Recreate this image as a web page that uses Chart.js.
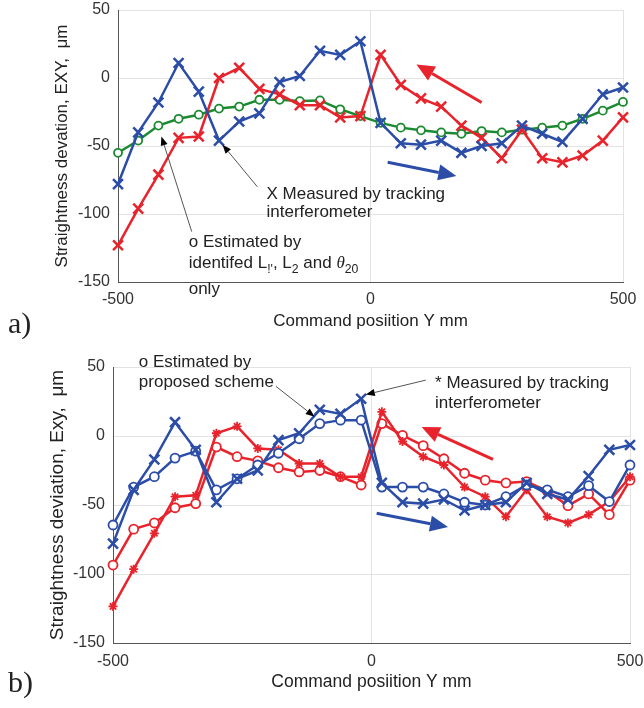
<!DOCTYPE html>
<html>
<head>
<meta charset="utf-8">
<script src="https://cdn.jsdelivr.net/npm/chart.js@4/dist/chart.umd.min.js"></script>
<style>
  html, body { margin: 0; padding: 0; background: #fff; }
  #wrapA { position: absolute; left: 0; top: 0; width: 644px; height: 340px; }
  #wrapB { position: absolute; left: 0; top: 340px; width: 644px; height: 368px; }
</style>
</head>
<body>
<div id="wrapA"><canvas id="chartA"></canvas></div>
<div id="wrapB"><canvas id="chartB"></canvas></div>
<script>
// ===== DATA =====
const positions = [-500, -460, -420, -380, -340, -300, -260, -220, -180, -140, -100, -60, -20,
                   20, 60, 100, 140, 180, 220, 260, 300, 340, 380, 420, 460, 500];

// panel a)
const aMeasuredFwd = [-78, -40, -18, 11, -10, -46, -32, -26, -3, 1.5, 20, 17, 27,
                      -33, -48, -49, -46, -55, -50, -48, -35, -41, -47, -30, -12, -7];
const aMeasuredBack = [-123, -96, -71, -44, -43, 0, 7.5, -8, -12, -20, -20, -29, -28,
                       17, -5, -15, -21, -35, -44, -59, -38, -59, -62, -57, -46, -29];
const aEstimated = [-55, -46, -35, -30, -27, -22.5, -21, -16, -16, -17, -16.5, -23, -28,
                    -33, -36.5, -38.5, -40, -41, -39, -40, -38, -36.5, -35, -30, -24, -17.6];

// panel b)
const bMeasuredFwd = [-78, -39, -17, 10, -10, -48, -31, -25, -3, 2, 19, 16, 27,
                      -34, -48, -49, -46, -54, -50, -48, -34, -42, -46, -29, -10, -6.5];
const bEstimatedFwd = [-64.5, -37, -29.5, -16, -11, -39, -31, -21, -12.5, -2, 9, 11.5, 11.5,
                       -37, -37, -37, -42, -48, -50, -44, -35.5, -39, -44, -36, -47.5, -21];
const bMeasuredBack = [-123.5, -96.5, -70.5, -44, -43, 2, 7, -9, -10, -20, -20, -29.5, -29.5,
                       17.5, -4, -15, -21, -37, -44, -58.5, -39, -58.5, -63, -57, -47.5, -29.5];
const bEstimatedBack = [-93.5, -67.5, -63, -52, -49, -8, -15, -18, -23, -26, -25, -29.5, -35.5,
                        9, 0.5, -7, -16.5, -27, -32, -34, -33, -40, -50.5, -42, -57, -32];

const xTicks = [-500, 0, 500];
const yTicks = [-150, -100, -50, 0, 50];

const BLUE = "#2b4da8";
const RED = "#e8232b";
const GREEN = "#1c8a30";
const FONT = "'Liberation Sans', Arial, sans-serif";

function pairs(values) {
  return values.map((v, i) => ({ x: positions[i], y: v }));
}

// ===== annotation helpers =====
function drawRich(ctx, x, y, parts, size) {
  let cx = x;
  parts.forEach(p => {
    const s = p.sub ? size * 0.72 : size;
    ctx.font = (p.it ? "italic " : "") + s + "px " + (p.it ? "'Liberation Serif', serif" : FONT);
    ctx.fillText(p.t, cx, y + (p.sub ? size * 0.3 : 0));
    cx += ctx.measureText(p.t).width;
  });
}

function drawArrow(ctx, x1, y1, x2, y2, color, headColor, lw, headLen, headW) {
  const ang = Math.atan2(y2 - y1, x2 - x1);
  const bx = x2 - Math.cos(ang) * headLen;
  const by = y2 - Math.sin(ang) * headLen;
  ctx.save();
  ctx.strokeStyle = color;
  ctx.lineWidth = lw;
  ctx.beginPath();
  ctx.moveTo(x1, y1);
  ctx.lineTo(bx, by);
  ctx.stroke();
  ctx.fillStyle = headColor;
  ctx.beginPath();
  ctx.moveTo(x2, y2);
  ctx.lineTo(bx + Math.sin(ang) * headW / 2, by - Math.cos(ang) * headW / 2);
  ctx.lineTo(bx - Math.sin(ang) * headW / 2, by + Math.cos(ang) * headW / 2);
  ctx.closePath();
  ctx.fill();
  ctx.restore();
}

const notesPlugin = {
  id: "notes",
  afterDatasetsDraw(chart, args, opts) {
    const { ctx, scales: { x, y } } = chart;
    ctx.save();
    (opts.arrows || []).forEach(a => {
      const big = a.kind !== "pointer";
      drawArrow(ctx,
        x.getPixelForValue(a.from[0]), y.getPixelForValue(a.from[1]),
        x.getPixelForValue(a.to[0]), y.getPixelForValue(a.to[1]),
        big ? a.color : "#555", big ? a.color : "#000",
        big ? 3 : 1, big ? 18 : 9, big ? 16 : 7);
    });
    ctx.fillStyle = "#222";
    ctx.textBaseline = "alphabetic";
    ctx.textAlign = "left";
    (opts.texts || []).forEach(t => {
      drawRich(ctx, x.getPixelForValue(t.at[0]), y.getPixelForValue(t.at[1]), t.parts, 17);
    });
    // panel letter
    ctx.font = "30px 'Liberation Serif', serif";
    ctx.fillStyle = "#222";
    ctx.fillText(opts.panel, 8, opts.panelY);
    ctx.restore();
  }
};

function scalesFor(cfg) {
  return {
    x: {
      type: "linear",
      min: -500,
      max: 500,
      afterBuildTicks: s => { s.ticks = xTicks.map(v => ({ value: v })); },
      afterFit: s => { s.height = cfg.xHeight; s.paddingLeft = 0; s.paddingRight = 0; },
      ticks: { padding: cfg.xTickPad, color: "#333", maxRotation: 0, font: { size: 16, family: FONT } },
      grid: { color: "#e3e3e3", drawTicks: false },
      border: { color: "#555", width: 1 },
      title: {
        display: true,
        text: "Command posiition Y mm",
        color: "#222",
        font: { size: cfg.xTitleSize, family: FONT },
        padding: { top: 0, bottom: cfg.xTitlePad }
      }
    },
    y: {
      type: "linear",
      min: -150,
      max: 50,
      afterBuildTicks: s => { s.ticks = yTicks.map(v => ({ value: v })); },
      afterFit: s => { s.width = cfg.yWidth; s.paddingTop = 0; s.paddingBottom = 0; },
      ticks: { padding: 8, color: "#333", font: { size: 16, family: FONT } },
      grid: { color: "#e3e3e3", drawTicks: false },
      border: { color: "#555", width: 1 },
      title: {
        display: true,
        text: cfg.yTitle,
        color: "#222",
        font: { size: cfg.yTitleSize, family: FONT },
        padding: { top: cfg.yTitlePad, bottom: 0 }
      }
    }
  };
}

function lineSet(values, color, style, radius, bw) {
  return {
    data: pairs(values),
    borderColor: color,
    backgroundColor: "#fff",
    borderWidth: 2.5,
    pointStyle: style,
    pointRadius: radius,
    pointBorderWidth: bw,
    pointBorderColor: color,
    pointBackgroundColor: "#fff",
    tension: 0,
    clip: false
  };
}

const commonOptions = {
  responsive: true,
  maintainAspectRatio: false,
  animation: false,
  events: [],
  plugins: { legend: { display: false }, tooltip: { enabled: false } }
};

// ===== a) =====
new Chart(document.getElementById("chartA"), {
  type: "line",
  plugins: [notesPlugin],
  data: {
    datasets: [
      lineSet(aMeasuredFwd, BLUE, "crossRot", 7, 2.5),
      lineSet(aMeasuredBack, RED, "crossRot", 7, 2.5),
      lineSet(aEstimated, GREEN, "circle", 4, 1.8)
    ]
  },
  options: {
    ...commonOptions,
    layout: { padding: { left: 0, right: 21, top: 10, bottom: 0 } },
    scales: scalesFor({
      xHeight: 58, xTickPad: 8, xTitlePad: 8, xTitleSize: 17,
      yWidth: 118, yTitlePad: 52, yTitleSize: 17,
      yTitle: "Straightness devation, EXY,  \u03bcm"
    }),
    plugins: {
      ...commonOptions.plugins,
      notes: {
        panel: "a)",
        panelY: 333,
        arrows: [
          { kind: "move", color: RED, from: [220, -18], to: [91, 10] },
          { kind: "move", color: BLUE, from: [34, -62], to: [170, -72] },
          { kind: "pointer", from: [-224, -80], to: [-293, -49] },
          { kind: "pointer", from: [-354, -113], to: [-414, -43] }
        ],
        texts: [
          { at: [-206, -89], parts: [{ t: "X Measured by tracking" }] },
          { at: [-206, -102.5], parts: [{ t: "interferometer" }] },
          { at: [-360, -124], parts: [{ t: "o Estimated by" }] },
          { at: [-360, -139.5], parts: [
            { t: "identifed L" }, { t: "!'", sub: true }, { t: ", L" }, { t: "2", sub: true },
            { t: " and " }, { t: "\u03b8", it: true }, { t: "20", sub: true }] },
          { at: [-360, -159], parts: [{ t: "only" }] }
        ]
      }
    }
  }
});

// ===== b) =====
new Chart(document.getElementById("chartB"), {
  type: "line",
  plugins: [notesPlugin],
  data: {
    datasets: [
      lineSet(bMeasuredFwd, BLUE, "crossRot", 7, 2.5),
      lineSet(bEstimatedFwd, BLUE, "circle", 4.5, 1.8),
      lineSet(bMeasuredBack, RED, "star", 4.5, 1.8),
      lineSet(bEstimatedBack, RED, "circle", 4.5, 1.8)
    ]
  },
  options: {
    ...commonOptions,
    layout: { padding: { left: 0, right: 14, top: 27, bottom: 0 } },
    scales: scalesFor({
      xHeight: 65, xTickPad: 9, xTitlePad: 15, xTitleSize: 17.5,
      yWidth: 113, yTitlePad: 46, yTitleSize: 19,
      yTitle: "Straightness deviation, Exy,  \u03bcm"
    }),
    plugins: {
      ...commonOptions.plugins,
      notes: {
        panel: "b)",
        panelY: 352,
        arrows: [
          { kind: "move", color: RED, from: [235, -17], to: [97, 6.5] },
          { kind: "move", color: BLUE, from: [10, -56], to: [148, -66] },
          { kind: "pointer", from: [-185, 36], to: [-110, 14] },
          { kind: "pointer", from: [105, 40.5], to: [-11, 30] }
        ],
        texts: [
          { at: [-450, 50], parts: [{ t: "o Estimated by" }] },
          { at: [-450, 35.5], parts: [{ t: "proposed scheme" }] },
          { at: [123, 35], parts: [{ t: "* Measured by tracking" }] },
          { at: [123, 20], parts: [{ t: "interferometer" }] }
        ]
      }
    }
  }
});
</script>
</body>
</html>
